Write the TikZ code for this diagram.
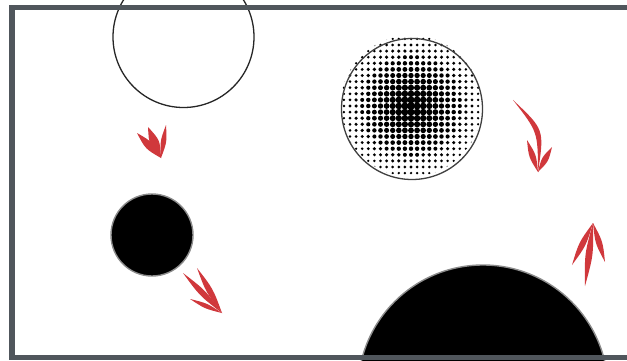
\documentclass[tikz,border=0pt]{standalone}
\usepackage{xcolor}
\usepackage{tikz}
\usetikzlibrary{calc}

\definecolor{framegray}{RGB}{80,86,92}
\definecolor{brushred}{RGB}{208,56,60}

% tapered brush stroke: start, end, bulge on one side, bulge on the other
\newcommand{\brushstroke}[4]{%
  \fill[brush] (#1) .. controls ($(#1)!0.5!(#2)!#3!90:(#2)$) .. (#2)
               .. controls ($(#1)!0.5!(#2)!#4!90:(#2)$) .. (#1);}

\begin{document}
\begin{tikzpicture}[
  x=1pt, y=-1pt,
  ring/.style={circle, draw=black!85, line width=1.3pt, inner sep=0pt, outer sep=0pt},
  blob/.style={circle, fill=black, draw=black!45, line width=1.4pt, inner sep=0pt, outer sep=0pt},
  brush/.style={fill=brushred},
  border/.style={draw=framegray, line width=5.5pt}
]
\clip (0,0) rectangle (627,361);
\fill[white] (0,0) rectangle (627,361);

% shapes
\node[ring, minimum size=141pt] (empty) at (183.5,37) {};
\node[blob, minimum size=82pt] (small) at (152,235) {};
\node[blob, minimum size=250pt] (big) at (483,390) {};

% halftone disc
\coordinate (htc) at (411,106);
\begin{scope}
  \clip (htc) circle (70.5pt);
  \foreach \i in {-12,...,12}{
    \foreach \j in {-12,...,12}{
      \pgfmathsetmacro\dd{sqrt(\i*\i+\j*\j)*6.1/74}
      \ifdim\dd pt<1pt
        \pgfmathsetmacro\rr{1.1+2.7*(1-\dd)}
        \fill ($(htc)+(\i*6.1,\j*6.1)$) circle (\rr pt);
      \fi}}
\end{scope}
\node[ring, minimum size=141pt, draw=black!75] (dots) at (412,109) {};

% arrow from empty to small
\coordinate (a1) at (161,158);
\brushstroke{137,133}{a1}{5pt}{-5pt}
\brushstroke{148,127}{a1}{6pt}{-6pt}
\brushstroke{166,125}{a1}{3.5pt}{-3.5pt}

% arrow from small onward
\coordinate (a2) at (222,313);
\brushstroke{183,273}{a2}{4pt}{-4pt}
\brushstroke{197,268}{a2}{4pt}{-4pt}
\brushstroke{190,299}{a2}{3pt}{-3pt}

% arrow right of dots
\coordinate (a3) at (538,172);
\brushstroke{513,100}{a3}{20pt}{13pt}
\brushstroke{527,140}{a3}{4pt}{-4pt}
\brushstroke{552,147}{a3}{4pt}{-4pt}

% arrow right of big
\coordinate (a4) at (593,223);
\brushstroke{585,286}{a4}{4.5pt}{-4.5pt}
\brushstroke{572,265}{a4}{4pt}{-4pt}
\brushstroke{605,262}{a4}{4pt}{-4pt}

% frame
\draw[border] (12,7.5) rectangle (660,357.5);
\end{tikzpicture}
\end{document}
